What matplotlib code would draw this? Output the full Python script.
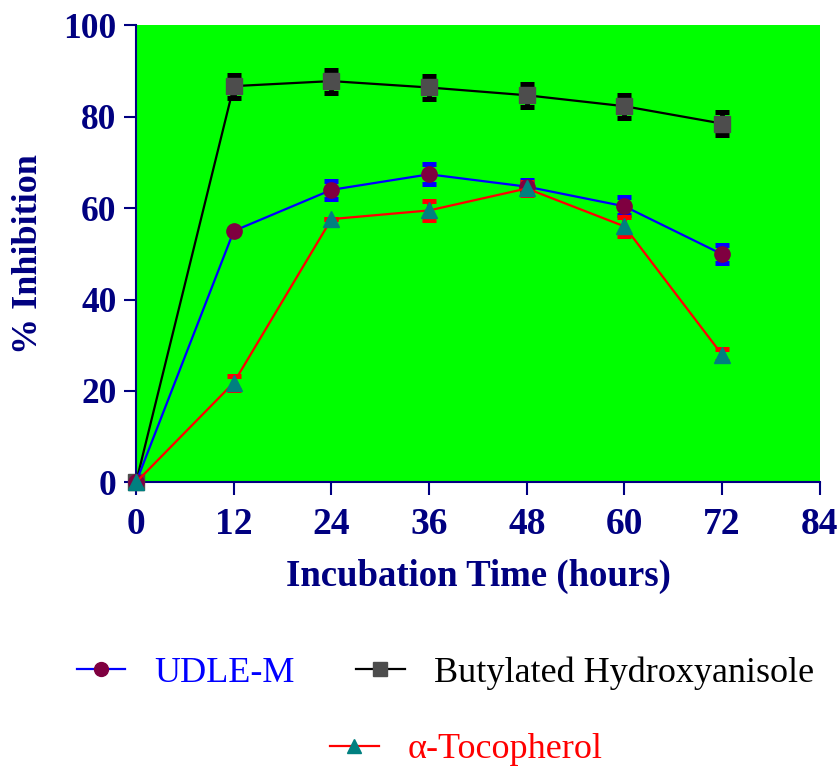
import matplotlib.pyplot as plt
from matplotlib.lines import Line2D

hours = [0, 12, 24, 36, 48, 60, 72]
udle = [0, 55.0, 64.0, 67.4, 64.7, 60.4, 49.9]
udle_err = [0, 0, 2.0, 2.2, 1.5, 2.0, 2.0]
bha = [0, 86.7, 87.8, 86.4, 84.7, 82.3, 78.5]
bha_err = [0, 2.5, 2.5, 2.5, 2.5, 2.5, 2.5]
toco = [0, 21.8, 57.6, 59.5, 64.3, 56.0, 27.9]
toco_err = [0, 1.5, 0, 2.0, 1.5, 2.0, 1.3]

navy = '#000080'
plt.rcParams['font.family'] = ['Liberation Serif', 'DejaVu Serif']

fig = plt.figure(figsize=(8.4, 7.68), dpi=100)
ax = fig.add_axes([0.162, 0.372, 0.814, 0.595])
ax.set_facecolor('#00ff00')

series = [
    (bha, bha_err, 'black', 's', '#4d4d4d'),
    (udle, udle_err, 'blue', 'o', '#7f0040'),
    (toco, toco_err, 'red', '^', '#008080'),
]
for vals, err, col, mk, mcol in series:
    ax.errorbar(hours, vals, yerr=err, color=col, lw=1.6, elinewidth=3.5,
                capsize=5, capthick=3.6, fmt='none', clip_on=False, zorder=3)
    ax.plot(hours, vals, color=col, lw=1.6, marker=mk, ms=11,
            mfc=mcol, mec=mcol, clip_on=False, zorder=4)

ax.set_xlim(0, 84)
ax.set_ylim(0, 100)
ax.set_xticks(range(0, 85, 12))
ax.set_yticks(range(0, 101, 20))
for s in ['top', 'right']:
    ax.spines[s].set_visible(False)
for s in ['left', 'bottom']:
    ax.spines[s].set_color(navy)
    ax.spines[s].set_linewidth(1.5)
ax.tick_params(colors=navy, width=1.5, length=9)
ax.tick_params(axis='x', labelsize=27, pad=9)
ax.tick_params(axis='y', labelsize=25.5, pad=5)
for t in ax.get_xticklabels() + ax.get_yticklabels():
    t.set_fontweight('bold')
ax.set_xlabel('Incubation Time (hours)', fontsize=26.5, fontweight='bold',
              color=navy, labelpad=12)
ax.set_ylabel('% Inhibition', fontsize=26, fontweight='bold', color=navy,
              labelpad=13)


def handle(col, mk, mcol):
    return Line2D([], [], color=col, lw=1.6, marker=mk, ms=10,
                  mfc=mcol, mec=mcol)


leg1 = fig.legend([handle('blue', 'o', '#7f0040'), handle('black', 's', '#4d4d4d')],
                  ['UDLE-M', 'Butylated Hydroxyanisole'], ncol=2,
                  loc='center', bbox_to_anchor=(0.530, 0.124), frameon=False,
                  fontsize=26, handlelength=1.35, handletextpad=0.8,
                  columnspacing=1.7, labelcolor=['blue', 'black'])
leg2 = fig.legend([handle('red', '^', '#008080')], [u'\u03b1-Tocopherol'],
                  loc='center', bbox_to_anchor=(0.555, 0.024), frameon=False,
                  fontsize=26, handlelength=1.35, handletextpad=0.8,
                  labelcolor=['red'])

fig.savefig('out.png', dpi=100)
